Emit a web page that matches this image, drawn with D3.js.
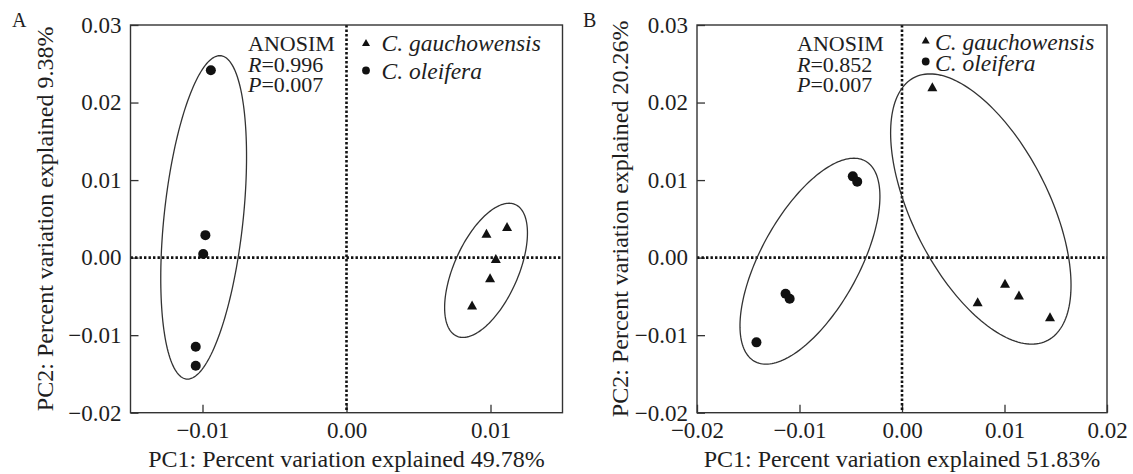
<!DOCTYPE html>
<html>
<head>
<meta charset="utf-8">
<script src="https://cdn.jsdelivr.net/npm/d3@7/dist/d3.min.js"></script>
<style>
  html, body { margin: 0; padding: 0; background: #fff; }
  svg { display: block; }
  text { font-family: "Liberation Serif", "Times New Roman", serif; fill: #1e1e1e; }
</style>
</head>
<body>
<svg id="chart" width="1133" height="474"></svg>
<script>
// ---------------- DATA ----------------
const groups = ["C. gauchowensis", "C. oleifera"];
const yTicks = [-0.02, -0.01, 0.00, 0.01, 0.02, 0.03];
const xTicksA = [-0.01, 0.00, 0.01];
const xTicksB = [-0.02, -0.01, 0.00, 0.01, 0.02];

// Panel A
const aGauchoX = [0.01115, 0.00972, 0.01037, 0.00997, 0.00872];
const aGauchoY = [0.00400, 0.00313, -0.00010, -0.00260, -0.00610];
const aOleiX = [-0.00942, -0.00980, -0.00995, -0.01047, -0.01047];
const aOleiY = [0.02417, 0.00290, 0.00046, -0.01150, -0.01395];
// ellipses: centre x, centre y, conjugate semi-diameter U (x, y), V (x, y)
const aEllipseGaucho = [0.00969, -0.00164, 0.00160, 0.00865, 0.00239, 0];
const aEllipseOlei = [-0.00992, 0.00519, 0.00112, 0.02086, 0.00276, 0];
const aStats = ["0.996", "0.007"];
const aXTitle = "PC1: Percent variation explained 49.78%";
const aYTitle = "PC2: Percent variation explained 9.38%";

// Panel B
const bGauchoX = [0.00296, 0.00738, 0.01005, 0.01141, 0.01444];
const bGauchoY = [0.02205, -0.00569, -0.00332, -0.00483, -0.00763];
const bOleiX = [-0.01420, -0.01136, -0.01096, -0.00480, -0.00437];
const bOleiY = [-0.01093, -0.00465, -0.00530, 0.01048, 0.00980];
const bEllipseGaucho = [0.00769, 0.00627, -0.00496, 0.01742, 0.00727, 0];
const bEllipseOlei = [-0.00898, -0.00046, 0.00429, 0.01328, 0.00531, 0];
const bStats = ["0.852", "0.007"];
const bXTitle = "PC1: Percent variation explained 51.83%";
const bYTitle = "PC2: Percent variation explained 20.26%";

// ---------------- DRAW ----------------
const svg = d3.select("#chart");
svg.append("rect").attr("width", 1133).attr("height", 474).attr("fill", "#fff");

const LINE = "#333";
const fmt = d3.format(".2f");

function triPath(cx, cy, w, h) {
  return `M${cx - w / 2},${cy + h / 2}L${cx + w / 2},${cy + h / 2}L${cx},${cy - h / 2}Z`;
}

function drawPanel(cfg) {
  const x = d3.scaleLinear().domain(cfg.xDomain).range([cfg.left, cfg.right]);
  const y = d3.scaleLinear().domain([-0.02, 0.03]).range([cfg.bottom, cfg.top]);
  const g = svg.append("g");

  // axes (inward ticks)
  const ax = g.append("g").attr("transform", `translate(0,${cfg.bottom})`)
    .call(d3.axisBottom(x).tickValues(cfg.xTicks).tickSize(-8).tickPadding(9).tickFormat(fmt));
  const ay = g.append("g").attr("transform", `translate(${cfg.left},0)`)
    .call(d3.axisLeft(y).tickValues(yTicks).tickSize(-8).tickPadding(9).tickFormat(fmt));
  [ax, ay].forEach(a => {
    a.select(".domain").remove();
    a.selectAll(".tick line").attr("stroke", LINE).attr("stroke-width", 1.3);
    a.selectAll(".tick text").style("font-family", '"Liberation Serif", serif')
      .style("font-size", "23px").attr("fill", "#1e1e1e");
  });

  // dotted zero lines
  const dot = { stroke: "#111", "stroke-width": 2.6, "stroke-dasharray": "2.4,2.1" };
  const hz = g.append("line").attr("x1", cfg.left).attr("x2", cfg.right)
    .attr("y1", y(0)).attr("y2", y(0));
  const vz = g.append("line").attr("x1", x(0)).attr("x2", x(0))
    .attr("y1", cfg.top).attr("y2", cfg.bottom);
  [hz, vz].forEach(l => Object.entries(dot).forEach(([k, v]) => l.attr(k, v)));

  // frame
  g.append("rect").attr("x", cfg.left).attr("y", cfg.top)
    .attr("width", cfg.right - cfg.left).attr("height", cfg.bottom - cfg.top)
    .attr("fill", "none").attr("stroke", LINE).attr("stroke-width", 1.4);

  // ellipses
  const line = d3.line().x(d => x(d[0])).y(d => y(d[1])).curve(d3.curveLinearClosed);
  [cfg.ellG, cfg.ellO].forEach(e => {
    const pts = d3.range(0, 360, 2).map(deg => {
      const t = deg * Math.PI / 180;
      return [e[0] + e[2] * Math.cos(t) + e[4] * Math.sin(t),
              e[1] + e[3] * Math.cos(t) + e[5] * Math.sin(t)];
    });
    g.append("path").attr("d", line(pts)).attr("fill", "none")
      .attr("stroke", LINE).attr("stroke-width", 1.3);
  });

  // points
  const gd = cfg.gx.map((v, i) => [v, cfg.gy[i]]);
  const od = cfg.ox.map((v, i) => [v, cfg.oy[i]]);
  g.selectAll(".tri").data(gd).join("path").attr("class", "tri")
    .attr("d", d => triPath(x(d[0]), y(d[1]), 10, 9)).attr("fill", "#111");
  g.selectAll(".cir").data(od).join("circle").attr("class", "cir")
    .attr("cx", d => x(d[0])).attr("cy", d => y(d[1])).attr("r", 5).attr("fill", "#111");

  // ANOSIM annotation
  const ann = g.append("g").style("font-size", "22px");
  ann.append("text").attr("x", cfg.annX).attr("y", 51).text("ANOSIM");
  const r = ann.append("text").attr("x", cfg.annX).attr("y", 71.5);
  r.append("tspan").style("font-style", "italic").text("R");
  r.append("tspan").text("=" + cfg.stats[0]);
  const p = ann.append("text").attr("x", cfg.annX).attr("y", 91.5);
  p.append("tspan").style("font-style", "italic").text("P");
  p.append("tspan").text("=" + cfg.stats[1]);

  // legend
  const lg = g.append("g").style("font-size", "23.5px").style("font-style", "italic");
  lg.append("path").attr("d", triPath(cfg.legX, cfg.legY[0], 8, 7)).attr("fill", "#111");
  lg.append("circle").attr("cx", cfg.legX).attr("cy", cfg.legY[1]).attr("r", 3.9).attr("fill", "#111");
  lg.append("text").attr("x", cfg.legTX).attr("y", cfg.legY[0] + cfg.legDy).text(groups[0]);
  lg.append("text").attr("x", cfg.legTX).attr("y", cfg.legY[1] + cfg.legDy).text(groups[1]);

  // axis titles
  const cxm = (cfg.left + cfg.right) / 2, cym = (cfg.top + cfg.bottom) / 2;
  g.append("text").attr("x", cxm).attr("y", 467).attr("text-anchor", "middle")
    .style("font-size", "24px").text(cfg.xTitle);
  g.append("text").attr("transform", `translate(${cfg.yTitleX},${cym}) rotate(-90)`)
    .attr("text-anchor", "middle").style("font-size", "24px").text(cfg.yTitle);

  // panel label
  g.append("text").attr("x", cfg.labelX).attr("y", 27).style("font-size", "20px").text(cfg.label);
}

drawPanel({
  label: "A", labelX: 12,
  left: 130.5, right: 562.5, top: 25, bottom: 412.7,
  xDomain: [-0.015, 0.015], xTicks: xTicksA,
  gx: aGauchoX, gy: aGauchoY, ox: aOleiX, oy: aOleiY,
  ellG: aEllipseGaucho, ellO: aEllipseOlei,
  stats: aStats, annX: 248,
  legX: 366, legY: [42.5, 70.5], legTX: 381.5, legDy: 8.5,
  xTitle: aXTitle, yTitle: aYTitle, yTitleX: 53
});

drawPanel({
  label: "B", labelX: 583,
  left: 697, right: 1107, top: 25, bottom: 412.7,
  xDomain: [-0.02, 0.02], xTicks: xTicksB,
  gx: bGauchoX, gy: bGauchoY, ox: bOleiX, oy: bOleiY,
  ellG: bEllipseGaucho, ellO: bEllipseOlei,
  stats: bStats, annX: 797,
  legX: 925.7, legY: [40, 61.5], legTX: 935, legDy: 9.5,
  xTitle: bXTitle, yTitle: bYTitle, yTitleX: 628
});
</script>
</body>
</html>
